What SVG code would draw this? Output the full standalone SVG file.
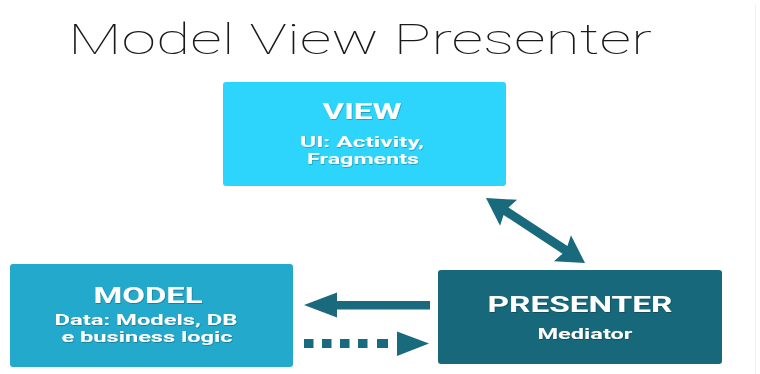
<svg xmlns="http://www.w3.org/2000/svg" width="760" height="374" viewBox="0 0 760 374">
  <style>
    .title { font-family: Roboto, "Liberation Sans", sans-serif; font-weight: 100; font-size: 43px; fill: #1a1a1a; }
    .head { font-family: Roboto, "Liberation Sans", sans-serif; font-weight: 700; font-size: 22px; fill: #ffffff; text-anchor: middle; }
    .sub { font-family: Roboto, "Liberation Sans", sans-serif; font-weight: 700; font-size: 15px; fill: #ffffff; text-anchor: middle; }
    .link { fill: #186a7c; }
  </style>
  <defs>
    <filter id="txtShadow" x="-10%" y="-30%" width="120%" height="160%">
      <feDropShadow dx="0.6" dy="0.8" stdDeviation="0.6" flood-color="#000000" flood-opacity="0.3"/>
    </filter>
  </defs>

  <rect x="0" y="0" width="760" height="374" fill="#ffffff"/>
  <line x1="755.5" y1="4" x2="755.5" y2="374" stroke="#f1f1f1" stroke-width="1"/>

  <text class="title" x="68" y="54" textLength="584" lengthAdjust="spacingAndGlyphs">Model View Presenter</text>

  <g id="view">
    <rect x="223" y="82" width="283" height="104" rx="3" fill="#2dd5fd"/>
    <g filter="url(#txtShadow)">
      <text class="head" x="362" y="119" textLength="79" lengthAdjust="spacingAndGlyphs">VIEW</text>
      <text class="sub" x="362" y="146.5" textLength="124" lengthAdjust="spacingAndGlyphs">UI: Activity,</text>
      <text class="sub" x="363" y="163.5" textLength="112" lengthAdjust="spacingAndGlyphs">Fragments</text>
    </g>
  </g>

  <g id="model">
    <rect x="10" y="264" width="283" height="103" rx="3" fill="#22a9cb"/>
    <g filter="url(#txtShadow)">
      <text class="head" x="148" y="303" textLength="109" lengthAdjust="spacingAndGlyphs">MODEL</text>
      <text class="sub" x="146" y="325" textLength="183" lengthAdjust="spacingAndGlyphs">Data: Models, DB</text>
      <text class="sub" x="147" y="342" textLength="171" lengthAdjust="spacingAndGlyphs">e business logic</text>
    </g>
  </g>

  <g id="presenter">
    <rect x="438" y="270" width="284" height="94" rx="3" fill="#18687b"/>
    <g filter="url(#txtShadow)">
      <text class="head" x="580" y="312" textLength="185" lengthAdjust="spacingAndGlyphs">PRESENTER</text>
      <text class="sub" x="585" y="339" textLength="95" lengthAdjust="spacingAndGlyphs">Mediator</text>
    </g>
  </g>

  <g id="connectors">
    <!-- two-way link between view and presenter -->
    <g class="link" transform="translate(486 198) rotate(33.3)">
      <polygon points="0,0 27,-15.5 24,-4.5 94.5,-4.5 91.5,-15.5 118.5,0 91.5,15.5 94.5,4.5 24,4.5 27,15.5"/>
    </g>
    <!-- presenter updates model -->
    <polygon class="link" points="304,305 337,292.5 337,301 430,301 430,309.5 337,309.5 337,317.5"/>
    <!-- model notifies presenter (dashed) -->
    <g class="link">
      <rect x="304" y="339" width="9.5" height="9"/>
      <rect x="322" y="339" width="9.5" height="9"/>
      <rect x="340" y="339" width="9.5" height="9"/>
      <rect x="358" y="339" width="9.5" height="9"/>
      <rect x="377" y="339" width="11" height="9"/>
      <polygon points="397,331.5 429,343.5 397,356"/>
    </g>
  </g>
</svg>
